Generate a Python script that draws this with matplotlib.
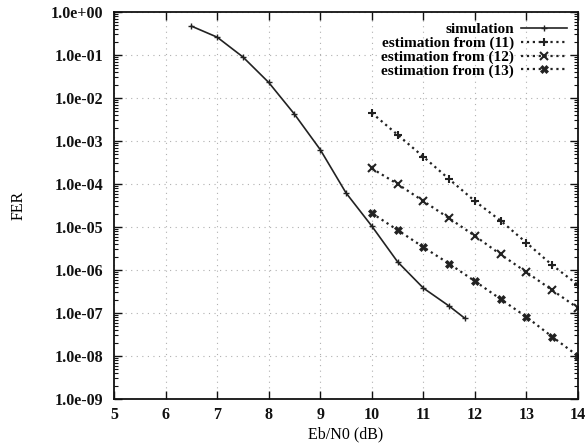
import matplotlib
matplotlib.use('Agg')
import matplotlib.pyplot as plt
import matplotlib.ticker as mt
import numpy as np

# Eb/N0 (dB) and FER values
sim_x = [6.5, 7.0, 7.5, 8.0, 8.5, 9.0, 9.5, 10.0, 10.5, 11.0, 11.5, 11.8]
sim_y = [0.47, 0.26, 0.09, 0.023, 4.2e-3, 6.3e-4, 6.2e-5, 1.05e-5, 1.55e-6, 3.8e-7, 1.45e-7, 7.6e-8]

est_x = [10.0, 10.5, 11.0, 11.5, 12.0, 12.5, 13.0, 13.5, 14.0]
est11 = [4.5e-3, 1.4e-3, 4.3e-4, 1.3e-4, 4.0e-5, 1.4e-5, 4.3e-6, 1.3e-6, 4.5e-7]
est12 = [2.3e-4, 1.0e-4, 4.0e-5, 1.6e-5, 6.2e-6, 2.3e-6, 8.9e-7, 3.4e-7, 1.3e-7]
est13 = [2.1e-5, 8.5e-6, 3.4e-6, 1.4e-6, 5.5e-7, 2.1e-7, 8.1e-8, 2.8e-8, 1.0e-8]

labels = ['simulation', 'estimation from (11)', 'estimation from (12)', 'estimation from (13)']
xticks = [5, 6, 7, 8, 9, 10, 11, 12, 13, 14]

plt.rcParams['font.family'] = ['Liberation Serif', 'DejaVu Serif']
plt.rcParams['font.weight'] = 'bold'

fig = plt.figure(figsize=(5.85, 4.45), dpi=100)
ax = fig.add_axes([0.195, 0.1034, 0.793, 0.8696])

c = '#222222'
ax.plot(sim_x, sim_y, '-', color=c, lw=1.2, marker='+', ms=5, mew=1.0, label=labels[0])
ax.plot(est_x, est11, ':', color=c, lw=1.6, marker='+', ms=6, mew=1.5, label=labels[1])
ax.plot(est_x, est12, ':', color=c, lw=1.6, marker='x', ms=6, mew=1.5, label=labels[2])
ax.plot(est_x, est13, ':', color=c, lw=1.6, marker='X', ms=6, mew=0.5, label=labels[3])

ax.set_yscale('log')
ax.set_xlim(5, 14)
ax.set_ylim(1e-9, 1.0)
ax.set_xticks(xticks)
ax.set_yticks([10.0 ** -k for k in range(0, 10)])
ax.yaxis.set_major_formatter(mt.FuncFormatter(lambda v, p: '%.1e' % v))
ax.yaxis.set_minor_locator(mt.LogLocator(base=10, subs=np.arange(2, 10), numticks=20))
ax.yaxis.set_minor_formatter(mt.NullFormatter())

ax.tick_params(which='both', direction='in', top=True, right=True, labelsize=11.5, colors='#111111')
ax.tick_params(which='major', length=6, width=1.0)
ax.tick_params(which='minor', length=3, width=0.8)
ax.tick_params(axis='y', which='major', pad=8)
ax.tick_params(axis='x', which='major', pad=6)
for s in ax.spines.values():
    s.set_linewidth(1.3)
    s.set_color('#111111')

ax.grid(which='major', linestyle=(0, (1, 4)), color='#b0b0b0', lw=0.8)

ax.set_xlabel('Eb/N0 (dB)', fontsize=11.5, labelpad=2)
ax.set_ylabel('FER', fontsize=11.5, labelpad=17)

ax.legend(loc='upper right', frameon=False, markerfirst=False, fontsize=11,
          handlelength=3.0, labelspacing=0.0, borderaxespad=0.3, handletextpad=0.5)

fig.savefig('out.png', dpi=100)
